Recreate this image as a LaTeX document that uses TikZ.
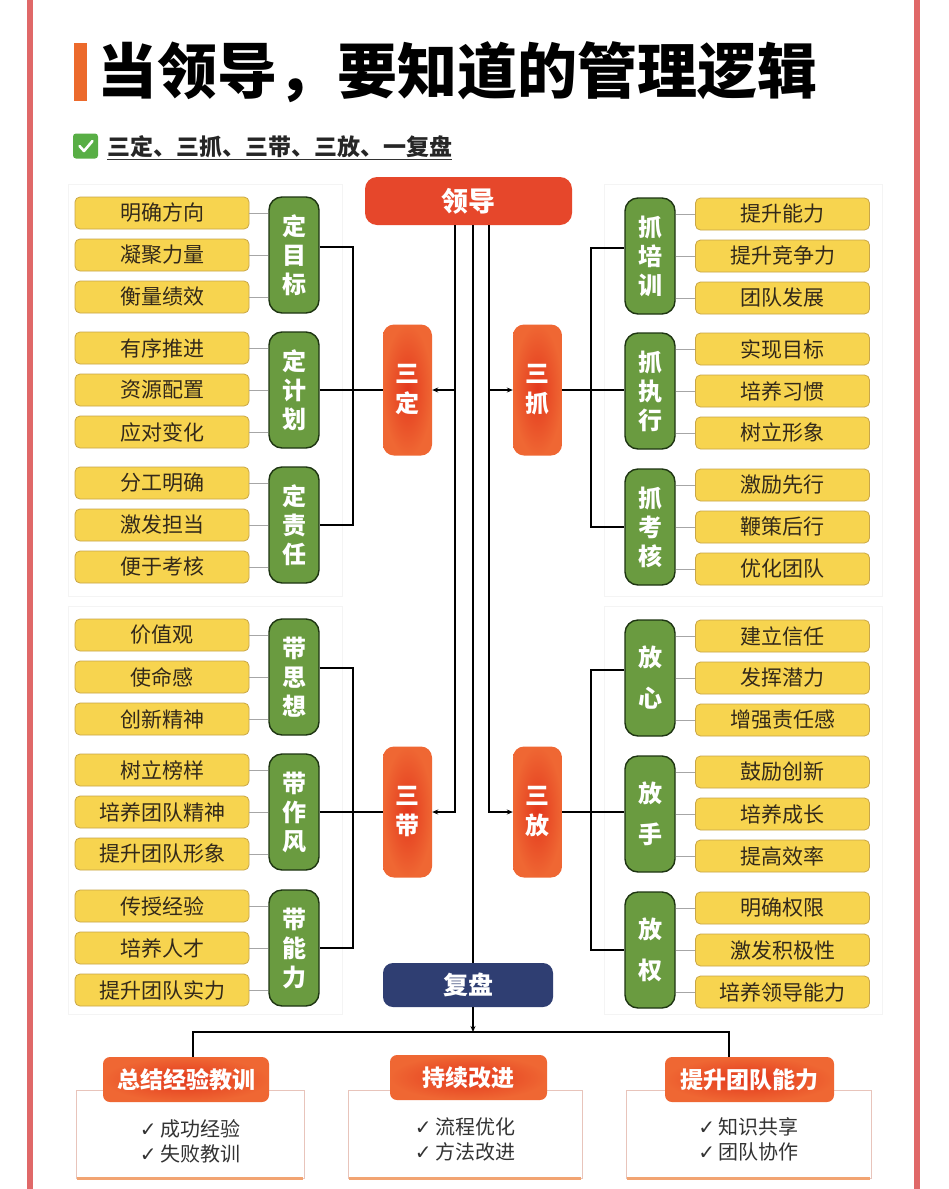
\documentclass[tikz,border=0pt]{standalone}
\usepackage{fontspec}
\newfontfamily\cjk{Noto Sans CJK SC}
\newfontfamily\djv{DejaVu Sans}
\usetikzlibrary{arrows.meta,calc}
\definecolor{frameC}{HTML}{E06868}
\definecolor{barC}{HTML}{EC6A2C}
\definecolor{ldC}{HTML}{E6472B}
\definecolor{redIn}{HTML}{E3381D}
\definecolor{redOut}{HTML}{EF6733}
\definecolor{gFill}{HTML}{6A9B40}
\definecolor{gDraw}{HTML}{1E3512}
\definecolor{yFill}{HTML}{F7D44F}
\definecolor{yDraw}{HTML}{C9A647}
\definecolor{navyC}{HTML}{2F3E72}
\definecolor{txtC}{HTML}{33291A}
\definecolor{cBd}{HTML}{E8C4BB}
\definecolor{cBot}{HTML}{F2A472}
\definecolor{chkC}{HTML}{58AE45}
\definecolor{panelC}{HTML}{F4F4F4}
\tikzset{
  ybox/.style={draw=yDraw, line width=0.8pt, fill=yFill, rounded corners=5pt,
    minimum width=174pt, minimum height=32pt, inner sep=0pt, text=txtC,
    font=\cjk\fontsize{21}{21}\selectfont},
  gbox/.style={draw=gDraw, line width=1.4pt, fill=gFill, rounded corners=13pt,
    minimum width=50pt, minimum height=116pt, inner sep=0pt, align=center,
    text=white, font=\cjk\bfseries\fontsize{24}{29}\selectfont},
  redbox/.style={shade, shading=radial, inner color=redIn, outer color=redOut,
    rounded corners=11pt, minimum width=49pt, minimum height=131pt, inner sep=0pt,
    align=center, text=white, font=\cjk\bfseries\fontsize{24}{30}\selectfont},
  hdbox/.style={shade, shading=radial, inner color=redIn, outer color=redOut,
    rounded corners=7pt, minimum height=45pt, inner sep=0pt,
    text=white, font=\cjk\bfseries\fontsize{23}{23}\selectfont},
  cbox/.style={draw=cBd, line width=0.8pt, fill=white, minimum height=88pt, inner sep=0pt},
  ctext/.style={align=center, text=black!80, font=\cjk\fontsize{20}{25}\selectfont, inner sep=0pt},
  thinC/.style={draw=black!35, line width=0.8pt},
  bk/.style={draw=black, line width=1.6pt},
  arr/.style={draw=black, line width=1.6pt, -{Stealth[length=6pt,width=5pt]}},
  panel/.style={draw=panelC, line width=0.8pt},
}
\newcommand\lgrp[6]{%
  \node[gbox] (#1) at (294,#2) {#3};
  \node[ybox] (#1-1) at (162,#2-42) {#4};
  \node[ybox] (#1-2) at (162,#2) {#5};
  \node[ybox] (#1-3) at (162,#2+42) {#6};
  \foreach \k in {1,2,3}{\draw[thinC] (#1-\k.east) -- (#1-\k.east -| #1.west);}
}
\newcommand\rgrp[6]{%
  \node[gbox] (#1) at (650,#2) {#3};
  \node[ybox] (#1-1) at (782.5,#2-42) {#4};
  \node[ybox] (#1-2) at (782.5,#2) {#5};
  \node[ybox] (#1-3) at (782.5,#2+42) {#6};
  \foreach \k in {1,2,3}{\draw[thinC] (#1-\k.west) -- (#1-\k.west -| #1.east);}
}
\begin{document}
\begin{tikzpicture}[x=1pt, y=-1pt]
\useasboundingbox (0,0) rectangle (948,1189);
\fill[white] (0,0) rectangle (948,1189);
% frame
\draw[frameC, line width=6pt] (30,-5) -- (30,1194);
\draw[frameC, line width=6pt] (917,-5) -- (917,1194);
% faint panels
\draw[panel] (68,184) rectangle (342,596);
\draw[panel] (68,606) rectangle (342,1014);
\draw[panel] (604,184) rectangle (882,596);
\draw[panel] (604,606) rectangle (882,1014);
% title
\node[fill=barC, minimum width=13pt, minimum height=58pt, inner sep=0pt] (bar) at (80.5,72) {};
\node[anchor=west, inner sep=0pt, font=\cjk\bfseries\fontsize{60}{60}\selectfont, text=black] (title) at (97,72) {当领导，要知道的管理逻辑};
% subtitle
\node[fill=chkC, rounded corners=3pt, minimum width=25pt, minimum height=25pt, inner sep=0pt] (ck) at (85.5,146) {};
\draw[white, line width=2.6pt, line cap=round, line join=round] ($(ck.center)+(-6,0)$) -- ($(ck.center)+(-1.5,5)$) -- ($(ck.center)+(7,-5)$);
\node[anchor=west, inner sep=0pt, font=\cjk\bfseries\fontsize{23}{23}\selectfont, text=black!85] (sub) at (107,147) {三定、三抓、三带、三放、一复盘};
\draw[black!80, line width=1pt] ([yshift=-1pt]sub.south west) -- ([yshift=-1pt]sub.south east);
% leader
\node[fill=ldC, rounded corners=12pt, minimum width=207pt, minimum height=48pt, inner sep=0pt, text=white, font=\cjk\bfseries\fontsize{27}{27}\selectfont] (ld) at (468.5,201) {领导};
% four red boxes
\node[redbox] (sd) at (407.5,390) {三\\定};
\node[redbox] (sz) at (537.5,390) {三\\抓};
\node[redbox] (sb) at (407.5,812) {三\\带};
\node[redbox] (sf) at (537.5,812) {三\\放};
% review
\node[fill=navyC, rounded corners=10pt, minimum width=170pt, minimum height=44pt, inner sep=0pt, text=white, font=\cjk\bfseries\fontsize{25}{25}\selectfont] (fp) at (468,985) {复盘};
% groups
\lgrp{g1}{255}{定\\目\\标}{明确方向}{凝聚力量}{衡量绩效}
\lgrp{g2}{390}{定\\计\\划}{有序推进}{资源配置}{应对变化}
\lgrp{g3}{525}{定\\责\\任}{分工明确}{激发担当}{便于考核}
\lgrp{g4}{677}{带\\思\\想}{价值观}{使命感}{创新精神}
\lgrp{g5}{812}{带\\作\\风}{树立榜样}{培养团队精神}{提升团队形象}
\lgrp{g6}{948}{带\\能\\力}{传授经验}{培养人才}{提升团队实力}
\rgrp{r1}{256}{抓\\培\\训}{提升能力}{提升竞争力}{团队发展}
\rgrp{r2}{391}{抓\\执\\行}{实现目标}{培养习惯}{树立形象}
\rgrp{r3}{527}{抓\\考\\核}{激励先行}{鞭策后行}{优化团队}
\rgrp{r4}{678}{放\\[12pt]心}{建立信任}{发挥潜力}{增强责任感}
\rgrp{r5}{814}{放\\[12pt]手}{鼓励创新}{培养成长}{提高效率}
\rgrp{r6}{950}{放\\[12pt]权}{明确权限}{激发积极性}{培养领导能力}
% bracket coordinates
\coordinate (bL) at (353,0);
\coordinate (bR) at (591,0);
\coordinate (cL) at (455,0);
\coordinate (cM) at (473,0);
\coordinate (cR) at (489,0);
% left brackets
\draw[bk] ([yshift=8pt]g1.east) -| (bL |- g3.east) -- (g3.east);
\draw[bk] (g2.east) -- (sd.west);
\draw[bk] ([yshift=9pt]g4.east) -| (bL |- g6.east) -- (g6.east);
\draw[bk] (g5.east) -- (sb.west);
% right brackets
\draw[bk] ([yshift=8pt]r1.west) -| (bR |- r3.west) -- (r3.west);
\draw[bk] (sz.east) -- (sz.east -| r2.west);
\draw[bk] ([yshift=8pt]r4.west) -| (bR |- r6.west) -- (r6.west);
\draw[bk] (sf.east) -- (sf.east -| r5.west);
% center lines
\draw[arr] (ld.south -| cL) |- (sb.east);
\draw[arr] (cL |- sd.east) -- (sd.east);
\draw[arr] (ld.south -| cR) |- (sf.west);
\draw[arr] (cR |- sz.west) -- (sz.west);
\draw[bk] (ld.south -| cM) -- (fp.north -| cM);
% bottom
\coordinate (hub) at (473,1032);
\coordinate (hL) at (193,0);
\coordinate (hR) at (729,0);
\node[cbox, minimum width=228pt] (c1) at (190,1134) {};
\node[cbox, minimum width=234pt] (c2) at (465,1134) {};
\node[cbox, minimum width=245pt] (c3) at (748.5,1134) {};
\draw[cBot, line width=3pt] ([xshift=1pt]c1.south west) -- ([xshift=-1pt]c1.south east);
\draw[cBot, line width=3pt] ([xshift=1pt]c2.south west) -- ([xshift=-1pt]c2.south east);
\draw[cBot, line width=3pt] ([xshift=1pt]c3.south west) -- ([xshift=-1pt]c3.south east);
\node[hdbox, minimum width=166pt] (h1) at (186,1079.5) {总结经验教训};
\node[hdbox, minimum width=157pt] (h2) at (468.5,1077.5) {持续改进};
\node[hdbox, minimum width=169pt] (h3) at (749.5,1079.5) {提升团队能力};
\node[ctext] (t1) at (190,1141) {{\djv ✓}\,成功经验\\{\djv ✓}\,失败教训};
\node[ctext] (t2) at (465,1139) {{\djv ✓}\,流程优化\\{\djv ✓}\,方法改进};
\node[ctext] (t3) at (748.5,1139) {{\djv ✓}\,知识共享\\{\djv ✓}\,团队协作};
\draw[arr] (fp.south -| cM) -- (hub);
\draw[bk] (hL |- h1.north) |- (hub) -| (hR |- h3.north);
\end{tikzpicture}
\end{document}
